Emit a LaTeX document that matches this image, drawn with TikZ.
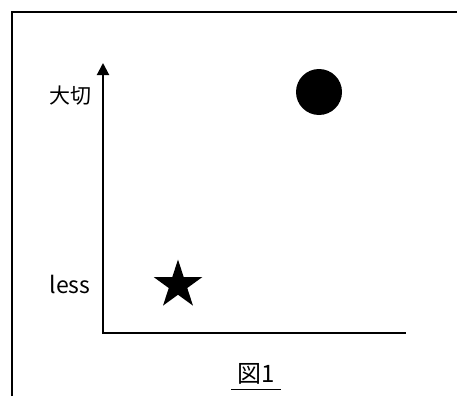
\documentclass[tikz,border=0pt]{standalone}
\usepackage{fontspec}
\setmainfont{Noto Sans CJK JP}
\usetikzlibrary{arrows.meta,shapes.geometric}
\begin{document}
\begin{tikzpicture}[x=1pt,y=-1pt,
  frame/.style={line width=2pt},
  axis/.style={line width=2pt},
  lbl/.style={inner sep=0pt, font=\fontsize{21}{24}\selectfont},
  dot/.style={circle, fill=black, inner sep=0pt, minimum size=46pt},
  starmark/.style={star, star points=5, star point ratio=2.618, fill=black, inner sep=0pt, minimum size=51pt}]
\useasboundingbox (0,0) rectangle (457,396);
\coordinate (fbl) at (11.5,396);
\coordinate (ftl) at (11.5,12.5);
\coordinate (ftr) at (457,12.5);
\draw[frame] (fbl) -- (ftl) -- (ftr);
\coordinate (o) at (103,333);
\coordinate (ytop) at (103,63);
\coordinate (xend) at (406,333);
\draw[axis, -{Triangle[length=12pt,width=12pt]}] (o) -- (ytop);
\draw[axis] ([xshift=-1pt]o) -- (xend);
\node[lbl] (imp) at (70,96) {大切};
\node[lbl, font=\fontsize{23}{26}\selectfont] (less) at (70,284) {less};
\node[starmark] (st) at (178,285) {};
\node[dot] (c) at (319,92) {};
\node[lbl, font=\fontsize{24}{26}\selectfont] (fig) at (256,374) {図1};
\coordinate (ul1) at (231,389);
\coordinate (ul2) at (281,389);
\draw[line width=1pt] (ul1) -- (ul2);
\end{tikzpicture}
\end{document}
